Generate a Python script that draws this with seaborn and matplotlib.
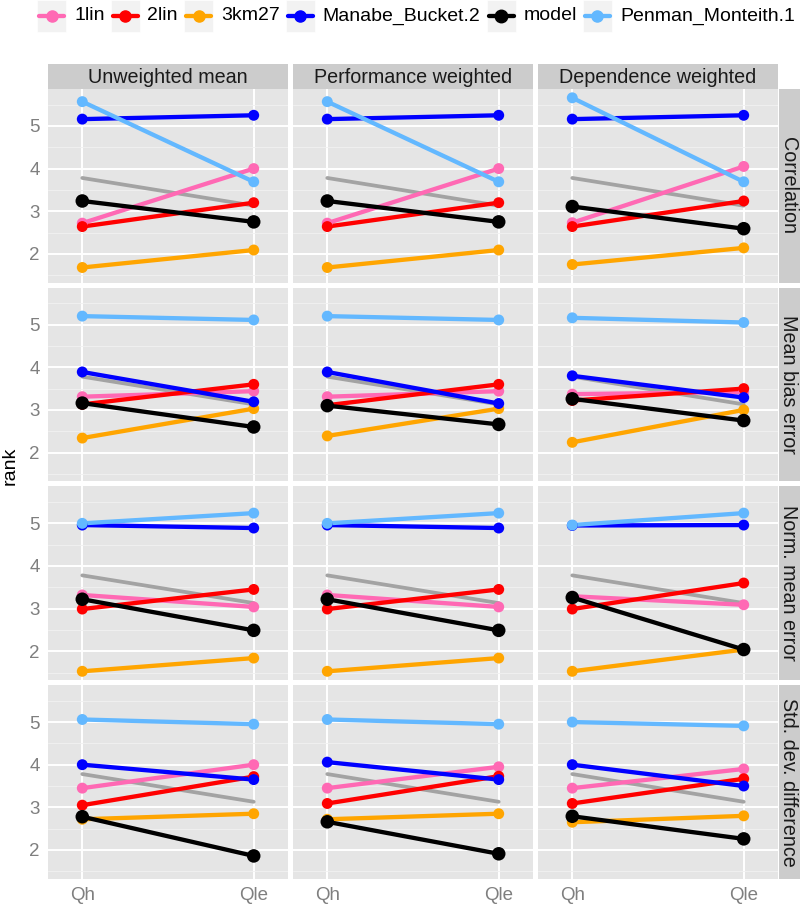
import numpy as np
import pandas as pd
import matplotlib
matplotlib.use("Agg")
import matplotlib.pyplot as plt
import seaborn as sns
from matplotlib.patches import Rectangle
from matplotlib.lines import Line2D

# ---------------- data ----------------
metrics = ["Correlation", "Mean bias error", "Norm. mean error", "Std. dev. difference"]
weightings = ["Unweighted mean", "Performance weighted", "Dependence weighted"]
variables = ["Qh", "Qle"]
series = ["1lin", "2lin", "3km27", "Manabe_Bucket.2", "model", "Penman_Monteith.1"]
colors = ["#FF69B4", "#FF0000", "#FFA500", "#0000FF", "#000000", "#63B8FF"]

# 12 panels each, ordered (metric, weighting) row-major
lin1_qh = [2.72, 2.72, 2.73, 3.31, 3.31, 3.37, 3.32, 3.32, 3.29, 3.45, 3.45, 3.45]
lin1_qle = [4.00, 4.00, 4.05, 3.44, 3.44, 3.42, 3.04, 3.04, 3.09, 4.00, 3.95, 3.90]
lin2_qh = [2.64, 2.64, 2.64, 3.13, 3.11, 3.22, 2.99, 2.99, 2.99, 3.05, 3.09, 3.09]
lin2_qle = [3.20, 3.20, 3.24, 3.60, 3.60, 3.50, 3.45, 3.45, 3.60, 3.72, 3.73, 3.67]
km27_qh = [1.68, 1.68, 1.75, 2.34, 2.39, 2.24, 1.53, 1.53, 1.53, 2.72, 2.72, 2.65]
km27_qle = [2.09, 2.09, 2.14, 3.03, 3.03, 3.00, 1.84, 1.84, 2.04, 2.85, 2.85, 2.80]
manabe_qh = [5.16, 5.16, 5.16, 3.89, 3.89, 3.80, 4.96, 4.96, 4.95, 4.00, 4.06, 4.00]
manabe_qle = [5.25, 5.25, 5.25, 3.19, 3.15, 3.29, 4.89, 4.89, 4.96, 3.65, 3.65, 3.50]
model_qh = [3.24, 3.24, 3.11, 3.16, 3.10, 3.26, 3.22, 3.22, 3.26, 2.78, 2.66, 2.79]
model_qle = [2.75, 2.75, 2.59, 2.60, 2.66, 2.75, 2.49, 2.49, 2.04, 1.86, 1.91, 2.26]
penman_qh = [5.57, 5.57, 5.66, 5.20, 5.20, 5.16, 5.00, 5.00, 4.96, 5.06, 5.06, 5.00]
penman_qle = [3.69, 3.69, 3.69, 5.11, 5.11, 5.05, 5.24, 5.24, 5.24, 4.95, 4.95, 4.91]

# grey reference line (same in every panel)
ref_rank = [3.78, 3.13]

series_qh = [lin1_qh, lin2_qh, km27_qh, manabe_qh, model_qh, penman_qh]
series_qle = [lin1_qle, lin2_qle, km27_qle, manabe_qle, model_qle, penman_qle]

rows = []
for si, s in enumerate(series):
    for p in range(12):
        m = metrics[p // 3]
        w = weightings[p % 3]
        rows.append(dict(metric=m, weighting=w, series=s, variable="Qh", x=0, rank=series_qh[si][p]))
        rows.append(dict(metric=m, weighting=w, series=s, variable="Qle", x=1, rank=series_qle[si][p]))
df = pd.DataFrame(rows)
ref_df = pd.DataFrame(dict(x=[0, 1], rank=ref_rank))

palette = dict(zip(series, colors))
point_sizes = {s: (95 if s == "model" else 62) for s in series}

# ---------------- layout ----------------
W, H = 800, 906
fig = plt.figure(figsize=(W / 100, H / 100), dpi=100)
sns.set_style("white")
plt.rcParams["font.family"] = ["Liberation Sans", "DejaVu Sans"]

def fx(px):
    return px / W

def fy(py):
    return 1 - py / H

col_left = [48, 293, 538]
pan_w = 240
row_top = [89, 287.7, 486.4, 685.1]
pan_h = 193.7
strip_h = 25
rstrip_w = 21

vals = df["rank"].values
rng = vals.max() - vals.min()
ylim = (vals.min() - 0.05 * rng, vals.max() + 0.05 * rng)

panel_bg = "#E5E5E5"
strip_bg = "#CCCCCC"
tick_col = "#7F7F7F"
strip_fs = 14.2
tick_fs = 13.5

for ri, m in enumerate(metrics):
    for ci, w in enumerate(weightings):
        ax = fig.add_axes([fx(col_left[ci]), fy(row_top[ri] + pan_h), pan_w / W, pan_h / H])
        ax.set_facecolor(panel_bg)
        for sp in ax.spines.values():
            sp.set_visible(False)
        sub = df[(df.metric == m) & (df.weighting == w)]
        sns.lineplot(data=ref_df, x="x", y="rank", color="#A3A3A3", lw=2.7, ax=ax,
                     legend=False, zorder=2)
        sns.lineplot(data=sub, x="x", y="rank", hue="series", hue_order=series,
                     palette=palette, lw=3.1, ax=ax, legend=False, estimator=None,
                     sort=False, zorder=3)
        sns.scatterplot(data=sub, x="x", y="rank", hue="series", hue_order=series,
                        palette=palette, size="series", sizes=point_sizes,
                        ax=ax, legend=False, linewidth=0, zorder=4)
        ax.set_xlim(-0.2, 1.2)
        ax.set_ylim(*ylim)
        ax.set_xticks([0, 1])
        ax.set_yticks([2, 3, 4, 5])
        ax.set_yticks(np.arange(1.5, 6.0, 1.0), minor=True)
        ax.grid(which="major", color="white", lw=1.4)
        ax.grid(which="minor", axis="y", color="#F2F2F2", lw=0.6)
        ax.set_axisbelow(True)
        ax.set_xlabel("")
        ax.set_ylabel("")
        ax.tick_params(axis="both", which="major", length=4, width=1, color=tick_col,
                       labelcolor=tick_col, labelsize=tick_fs, pad=2)
        ax.tick_params(axis="y", which="minor", length=0)
        if ci == 0:
            ax.set_yticklabels(["2", "3", "4", "5"])
        else:
            ax.tick_params(axis="y", length=0, labelleft=False)
        if ri == 3:
            ax.set_xticklabels(variables)
        else:
            ax.tick_params(axis="x", length=0, labelbottom=False)

        # top strips
        if ri == 0:
            sax = fig.add_axes([fx(col_left[ci]), fy(row_top[0]), pan_w / W, strip_h / H])
            sax.set_facecolor(strip_bg)
            sax.set_xticks([]); sax.set_yticks([])
            for sp in sax.spines.values():
                sp.set_visible(False)
            sax.text(0.5, 0.45, w, ha="center", va="center", fontsize=strip_fs, color="#1A1A1A",
                     transform=sax.transAxes)
        # right strips
        if ci == 2:
            rax = fig.add_axes([fx(col_left[2] + pan_w + 1), fy(row_top[ri] + pan_h),
                                rstrip_w / W, pan_h / H])
            rax.set_facecolor(strip_bg)
            rax.set_xticks([]); rax.set_yticks([])
            for sp in rax.spines.values():
                sp.set_visible(False)
            rax.text(0.45, 0.5, m, ha="center", va="center", rotation=-90, fontsize=strip_fs,
                     color="#1A1A1A", transform=rax.transAxes)

fig.text(fx(10), fy(466), "rank", rotation=90, ha="center", va="center", fontsize=14,
         color="black")

# ---------------- legend ----------------
renderer = fig.canvas.get_renderer()
x = 37
key_w, key_top, key_bot = 29, 0, 32
ycen = 16
for s in series:
    fig.patches.append(Rectangle((fx(x), fy(key_bot)), key_w / W, (key_bot - key_top) / H,
                                 transform=fig.transFigure, facecolor="#F2F2F2",
                                 edgecolor="white", lw=0.5))
    fig.lines.append(Line2D([fx(x + 2), fx(x + key_w - 2)], [fy(ycen), fy(ycen)],
                            transform=fig.transFigure, color=palette[s], lw=3.1))
    fig.lines.append(Line2D([fx(x + key_w / 2)], [fy(ycen)], transform=fig.transFigure,
                            color=palette[s], marker="o", markersize=8 if s != "model" else 9,
                            lw=0))
    t = fig.text(fx(x + key_w + 8), fy(ycen), s, ha="left", va="center", fontsize=14,
                 color="black")
    bb = t.get_window_extent(renderer=renderer)
    x = bb.x1 + 6

fig.savefig("out.png", dpi=100)
